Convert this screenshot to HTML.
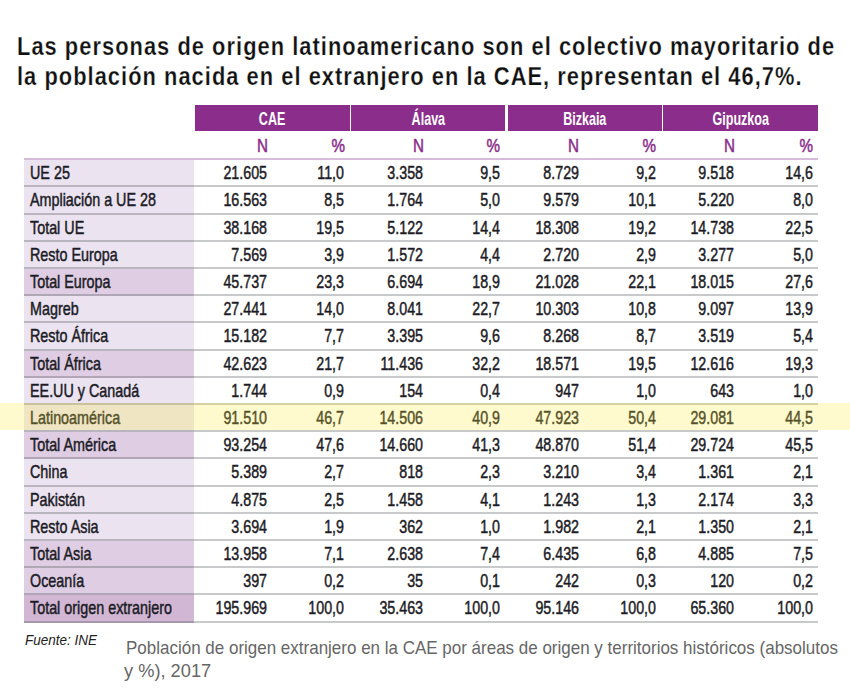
<!DOCTYPE html>
<html><head><meta charset="utf-8"><style>
*{margin:0;padding:0;box-sizing:border-box}
html,body{width:850px;height:696px;background:#fff;overflow:hidden}
body{position:relative;font-family:"Liberation Sans",sans-serif}
.a{position:absolute}
.t{position:absolute;-webkit-text-stroke:0.25px #fff;left:17.3px;letter-spacing:1.24px;font-weight:bold;font-size:26px;color:#111;white-space:nowrap;transform:scaleX(0.84);transform-origin:0 0;line-height:30px}
.hd{position:absolute;top:105px;height:26px;background:#8b2d8b;width:154.3px}
.ht{position:absolute;left:0;right:0;text-align:center;line-height:27px;color:#fff;font-weight:bold;font-size:19px;white-space:nowrap}
.ht span{display:inline-block;transform:scaleX(0.66)}
.sh{position:absolute;-webkit-text-stroke:0.5px #8b2d8b;line-height:27px;color:#8b2d8b;font-size:19px;white-space:nowrap;transform:scaleX(0.8);transform-origin:100% 0;width:200px;text-align:right}
.lav{position:absolute;left:24px;width:169.5px;background:#ebe3f0}
.lav.d{background:#dfcde3}
.lav.dd{background:#d1b7d4}
.ln{position:absolute;left:24px;width:794px;height:2px;background:rgba(70,75,80,0.3)}
.lb{position:absolute;-webkit-text-stroke:0.5px #1c1c26;left:29.5px;font-size:19px;color:#1c1c26;white-space:nowrap;transform:scaleX(0.755);transform-origin:0 0;line-height:27px}
.n{position:absolute;-webkit-text-stroke:0.5px #1c1c26;font-size:19px;color:#1c1c26;white-space:nowrap;transform:scaleX(0.75);transform-origin:100% 0;line-height:27px;text-align:right;width:200px}
.hl{position:absolute;left:0;width:850px;background:rgba(251,235,59,0.25)}
.src{position:absolute;left:25.2px;font-style:italic;font-size:15px;color:#222;white-space:nowrap;line-height:20px;transform:scaleX(0.9);transform-origin:0 0}
.cap{position:absolute;left:125.5px;font-size:19px;color:#666;line-height:23.1px;white-space:nowrap;transform:scaleX(0.894);transform-origin:0 0}
</style></head><body>
<div class="t" style="top:30.79px">Las personas de origen latinoamericano son el colectivo mayoritario de</div>
<div class="t" style="top:60.79px">la población nacida en el extranjero en la CAE, representan el 46,7%.</div>
<div class="hd" style="left:195.3px"><div class="ht" style="top:-0.18px"><span>CAE</span></div></div>
<div class="hd" style="left:351.2px"><div class="ht" style="top:-0.18px"><span>Álava</span></div></div>
<div class="hd" style="left:507.6px"><div class="ht" style="top:-0.18px"><span>Bizkaia</span></div></div>
<div class="hd" style="left:663.3px"><div class="ht" style="top:-0.18px"><span>Gipuzkoa</span></div></div>
<div class="sh" style="left:67.8px;top:131.82px">N</div>
<div class="sh" style="left:144.8px;top:131.82px">%</div>
<div class="sh" style="left:223.8px;top:131.82px">N</div>
<div class="sh" style="left:300.3px;top:131.82px">%</div>
<div class="sh" style="left:379.3px;top:131.82px">N</div>
<div class="sh" style="left:456.3px;top:131.82px">%</div>
<div class="sh" style="left:534.8px;top:131.82px">N</div>
<div class="sh" style="left:613.3px;top:131.82px">%</div>
<div class="lav" style="top:160.20px;height:27.20px"></div>
<div class="lav" style="top:187.40px;height:27.20px"></div>
<div class="lav" style="top:214.60px;height:27.20px"></div>
<div class="lav" style="top:241.80px;height:27.20px"></div>
<div class="lav d" style="top:269.00px;height:27.20px"></div>
<div class="lav" style="top:296.20px;height:27.20px"></div>
<div class="lav" style="top:323.40px;height:27.20px"></div>
<div class="lav d" style="top:350.60px;height:27.20px"></div>
<div class="lav" style="top:377.80px;height:27.20px"></div>
<div class="lav" style="top:405.00px;height:27.20px"></div>
<div class="lav d" style="top:432.20px;height:27.20px"></div>
<div class="lav" style="top:459.40px;height:27.20px"></div>
<div class="lav" style="top:486.60px;height:27.20px"></div>
<div class="lav" style="top:513.80px;height:27.20px"></div>
<div class="lav d" style="top:541.00px;height:27.20px"></div>
<div class="lav d" style="top:568.20px;height:27.20px"></div>
<div class="lav dd" style="top:595.40px;height:27.20px"></div>
<div class="a" style="left:24px;width:794px;top:158.20px;height:2px;background:#d6bcda"></div>
<div class="ln" style="top:185.40px"></div>
<div class="ln" style="top:212.60px"></div>
<div class="ln" style="top:239.80px"></div>
<div class="ln" style="top:267.00px"></div>
<div class="ln" style="top:294.20px"></div>
<div class="ln" style="top:321.40px"></div>
<div class="ln" style="top:348.60px"></div>
<div class="ln" style="top:375.80px"></div>
<div class="ln" style="top:403.00px"></div>
<div class="ln" style="top:430.20px"></div>
<div class="ln" style="top:457.40px"></div>
<div class="ln" style="top:484.60px"></div>
<div class="ln" style="top:511.80px"></div>
<div class="ln" style="top:539.00px"></div>
<div class="ln" style="top:566.20px"></div>
<div class="ln" style="top:593.40px"></div>
<div class="ln" style="top:620.60px"></div>
<div class="lb" style="top:159.22px">UE 25</div>
<div class="n" style="top:159.22px;left:67px">21.605</div>
<div class="n" style="top:159.22px;left:144px">11,0</div>
<div class="n" style="top:159.22px;left:223px">3.358</div>
<div class="n" style="top:159.22px;left:299.5px">9,5</div>
<div class="n" style="top:159.22px;left:378.5px">8.729</div>
<div class="n" style="top:159.22px;left:455.5px">9,2</div>
<div class="n" style="top:159.22px;left:534px">9.518</div>
<div class="n" style="top:159.22px;left:612.5px">14,6</div>
<div class="lb" style="top:186.42px">Ampliación a UE 28</div>
<div class="n" style="top:186.42px;left:67px">16.563</div>
<div class="n" style="top:186.42px;left:144px">8,5</div>
<div class="n" style="top:186.42px;left:223px">1.764</div>
<div class="n" style="top:186.42px;left:299.5px">5,0</div>
<div class="n" style="top:186.42px;left:378.5px">9.579</div>
<div class="n" style="top:186.42px;left:455.5px">10,1</div>
<div class="n" style="top:186.42px;left:534px">5.220</div>
<div class="n" style="top:186.42px;left:612.5px">8,0</div>
<div class="lb" style="top:213.62px">Total UE</div>
<div class="n" style="top:213.62px;left:67px">38.168</div>
<div class="n" style="top:213.62px;left:144px">19,5</div>
<div class="n" style="top:213.62px;left:223px">5.122</div>
<div class="n" style="top:213.62px;left:299.5px">14,4</div>
<div class="n" style="top:213.62px;left:378.5px">18.308</div>
<div class="n" style="top:213.62px;left:455.5px">19,2</div>
<div class="n" style="top:213.62px;left:534px">14.738</div>
<div class="n" style="top:213.62px;left:612.5px">22,5</div>
<div class="lb" style="top:240.82px">Resto Europa</div>
<div class="n" style="top:240.82px;left:67px">7.569</div>
<div class="n" style="top:240.82px;left:144px">3,9</div>
<div class="n" style="top:240.82px;left:223px">1.572</div>
<div class="n" style="top:240.82px;left:299.5px">4,4</div>
<div class="n" style="top:240.82px;left:378.5px">2.720</div>
<div class="n" style="top:240.82px;left:455.5px">2,9</div>
<div class="n" style="top:240.82px;left:534px">3.277</div>
<div class="n" style="top:240.82px;left:612.5px">5,0</div>
<div class="lb" style="top:268.02px">Total Europa</div>
<div class="n" style="top:268.02px;left:67px">45.737</div>
<div class="n" style="top:268.02px;left:144px">23,3</div>
<div class="n" style="top:268.02px;left:223px">6.694</div>
<div class="n" style="top:268.02px;left:299.5px">18,9</div>
<div class="n" style="top:268.02px;left:378.5px">21.028</div>
<div class="n" style="top:268.02px;left:455.5px">22,1</div>
<div class="n" style="top:268.02px;left:534px">18.015</div>
<div class="n" style="top:268.02px;left:612.5px">27,6</div>
<div class="lb" style="top:295.22px">Magreb</div>
<div class="n" style="top:295.22px;left:67px">27.441</div>
<div class="n" style="top:295.22px;left:144px">14,0</div>
<div class="n" style="top:295.22px;left:223px">8.041</div>
<div class="n" style="top:295.22px;left:299.5px">22,7</div>
<div class="n" style="top:295.22px;left:378.5px">10.303</div>
<div class="n" style="top:295.22px;left:455.5px">10,8</div>
<div class="n" style="top:295.22px;left:534px">9.097</div>
<div class="n" style="top:295.22px;left:612.5px">13,9</div>
<div class="lb" style="top:322.42px">Resto África</div>
<div class="n" style="top:322.42px;left:67px">15.182</div>
<div class="n" style="top:322.42px;left:144px">7,7</div>
<div class="n" style="top:322.42px;left:223px">3.395</div>
<div class="n" style="top:322.42px;left:299.5px">9,6</div>
<div class="n" style="top:322.42px;left:378.5px">8.268</div>
<div class="n" style="top:322.42px;left:455.5px">8,7</div>
<div class="n" style="top:322.42px;left:534px">3.519</div>
<div class="n" style="top:322.42px;left:612.5px">5,4</div>
<div class="lb" style="top:349.62px">Total África</div>
<div class="n" style="top:349.62px;left:67px">42.623</div>
<div class="n" style="top:349.62px;left:144px">21,7</div>
<div class="n" style="top:349.62px;left:223px">11.436</div>
<div class="n" style="top:349.62px;left:299.5px">32,2</div>
<div class="n" style="top:349.62px;left:378.5px">18.571</div>
<div class="n" style="top:349.62px;left:455.5px">19,5</div>
<div class="n" style="top:349.62px;left:534px">12.616</div>
<div class="n" style="top:349.62px;left:612.5px">19,3</div>
<div class="lb" style="top:376.82px">EE.UU y Canadá</div>
<div class="n" style="top:376.82px;left:67px">1.744</div>
<div class="n" style="top:376.82px;left:144px">0,9</div>
<div class="n" style="top:376.82px;left:223px">154</div>
<div class="n" style="top:376.82px;left:299.5px">0,4</div>
<div class="n" style="top:376.82px;left:378.5px">947</div>
<div class="n" style="top:376.82px;left:455.5px">1,0</div>
<div class="n" style="top:376.82px;left:534px">643</div>
<div class="n" style="top:376.82px;left:612.5px">1,0</div>
<div class="lb" style="top:404.02px">Latinoamérica</div>
<div class="n" style="top:404.02px;left:67px">91.510</div>
<div class="n" style="top:404.02px;left:144px">46,7</div>
<div class="n" style="top:404.02px;left:223px">14.506</div>
<div class="n" style="top:404.02px;left:299.5px">40,9</div>
<div class="n" style="top:404.02px;left:378.5px">47.923</div>
<div class="n" style="top:404.02px;left:455.5px">50,4</div>
<div class="n" style="top:404.02px;left:534px">29.081</div>
<div class="n" style="top:404.02px;left:612.5px">44,5</div>
<div class="lb" style="top:431.22px">Total América</div>
<div class="n" style="top:431.22px;left:67px">93.254</div>
<div class="n" style="top:431.22px;left:144px">47,6</div>
<div class="n" style="top:431.22px;left:223px">14.660</div>
<div class="n" style="top:431.22px;left:299.5px">41,3</div>
<div class="n" style="top:431.22px;left:378.5px">48.870</div>
<div class="n" style="top:431.22px;left:455.5px">51,4</div>
<div class="n" style="top:431.22px;left:534px">29.724</div>
<div class="n" style="top:431.22px;left:612.5px">45,5</div>
<div class="lb" style="top:458.42px">China</div>
<div class="n" style="top:458.42px;left:67px">5.389</div>
<div class="n" style="top:458.42px;left:144px">2,7</div>
<div class="n" style="top:458.42px;left:223px">818</div>
<div class="n" style="top:458.42px;left:299.5px">2,3</div>
<div class="n" style="top:458.42px;left:378.5px">3.210</div>
<div class="n" style="top:458.42px;left:455.5px">3,4</div>
<div class="n" style="top:458.42px;left:534px">1.361</div>
<div class="n" style="top:458.42px;left:612.5px">2,1</div>
<div class="lb" style="top:485.62px">Pakistán</div>
<div class="n" style="top:485.62px;left:67px">4.875</div>
<div class="n" style="top:485.62px;left:144px">2,5</div>
<div class="n" style="top:485.62px;left:223px">1.458</div>
<div class="n" style="top:485.62px;left:299.5px">4,1</div>
<div class="n" style="top:485.62px;left:378.5px">1.243</div>
<div class="n" style="top:485.62px;left:455.5px">1,3</div>
<div class="n" style="top:485.62px;left:534px">2.174</div>
<div class="n" style="top:485.62px;left:612.5px">3,3</div>
<div class="lb" style="top:512.82px">Resto Asia</div>
<div class="n" style="top:512.82px;left:67px">3.694</div>
<div class="n" style="top:512.82px;left:144px">1,9</div>
<div class="n" style="top:512.82px;left:223px">362</div>
<div class="n" style="top:512.82px;left:299.5px">1,0</div>
<div class="n" style="top:512.82px;left:378.5px">1.982</div>
<div class="n" style="top:512.82px;left:455.5px">2,1</div>
<div class="n" style="top:512.82px;left:534px">1.350</div>
<div class="n" style="top:512.82px;left:612.5px">2,1</div>
<div class="lb" style="top:540.02px">Total Asia</div>
<div class="n" style="top:540.02px;left:67px">13.958</div>
<div class="n" style="top:540.02px;left:144px">7,1</div>
<div class="n" style="top:540.02px;left:223px">2.638</div>
<div class="n" style="top:540.02px;left:299.5px">7,4</div>
<div class="n" style="top:540.02px;left:378.5px">6.435</div>
<div class="n" style="top:540.02px;left:455.5px">6,8</div>
<div class="n" style="top:540.02px;left:534px">4.885</div>
<div class="n" style="top:540.02px;left:612.5px">7,5</div>
<div class="lb" style="top:567.22px">Oceanía</div>
<div class="n" style="top:567.22px;left:67px">397</div>
<div class="n" style="top:567.22px;left:144px">0,2</div>
<div class="n" style="top:567.22px;left:223px">35</div>
<div class="n" style="top:567.22px;left:299.5px">0,1</div>
<div class="n" style="top:567.22px;left:378.5px">242</div>
<div class="n" style="top:567.22px;left:455.5px">0,3</div>
<div class="n" style="top:567.22px;left:534px">120</div>
<div class="n" style="top:567.22px;left:612.5px">0,2</div>
<div class="lb" style="top:594.42px">Total origen extranjero</div>
<div class="n" style="top:594.42px;left:67px">195.969</div>
<div class="n" style="top:594.42px;left:144px">100,0</div>
<div class="n" style="top:594.42px;left:223px">35.463</div>
<div class="n" style="top:594.42px;left:299.5px">100,0</div>
<div class="n" style="top:594.42px;left:378.5px">95.146</div>
<div class="n" style="top:594.42px;left:455.5px">100,0</div>
<div class="n" style="top:594.42px;left:534px">65.360</div>
<div class="n" style="top:594.42px;left:612.5px">100,0</div>
<div class="hl" style="top:403px;height:27px"></div>
<div class="src" style="top:630.40px">Fuente: INE</div>
<div class="cap" style="top:635.57px">Población de origen extranjero en la CAE por áreas de origen y territorios históricos (absolutos</div>
<div class="cap" style="left:124.2px;transform:scaleX(0.96);top:658.67px">y %), 2017</div>
</body></html>
